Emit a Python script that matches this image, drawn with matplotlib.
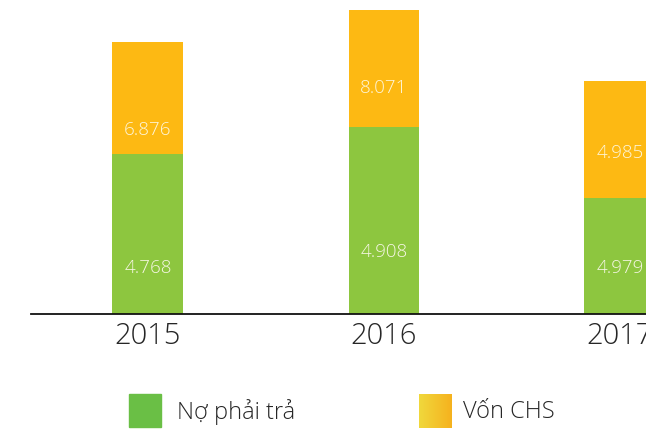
import matplotlib as mpl
mpl.use('Agg')
from matplotlib import pyplot as plt
from matplotlib.patches import Rectangle
import numpy as np

# Data
years = ['2015', '2016', '2017']
no_phai_tra = ['4.768', '4.908', '4.979']   # printed labels, green
von_chs = ['6.876', '8.071', '4.985']       # printed labels, orange
# bar segment heights as drawn (pixels), they are not to scale with labels
no_heights = [160, 187, 116.5]
von_heights = [112, 117, 116.5]
# label heights inside each segment (pixels above baseline)
no_label_y = [46, 62, 46]
von_label_y = [184, 226, 161]

GREEN = '#8dc63f'
GREEN_LEG = '#6abf45'
ORANGE = '#fdb913'
FONT = 'Open Sans'

plt.rcParams['font.family'] = [FONT, 'DejaVu Sans']

W, H = 646, 429
fig = plt.figure(figsize=(W / 100, H / 100), dpi=100)
ax = fig.add_axes([0, 0, 1, 1])

x = np.arange(len(years))
px = 236.0  # pixels per category
x0 = 148.0  # centre of first bar in pixels
ax.set_xlim(-x0 / px, (W - x0) / px)
ax.set_ylim(-115, 314)
ax.axis('off')

bw = 71 / px
ax.bar(x, no_heights, width=bw, color=GREEN, zorder=2)
ax.bar(x, von_heights, width=bw, bottom=no_heights, color=ORANGE, zorder=2)

# baseline
ax.plot([(31 - x0) / px, (W - x0) / px], [0, 0], color='#111111', lw=1.3, zorder=3)

for i, yr in enumerate(years):
    ax.text(x[i], -22, yr, ha='center', va='center', fontsize=21,
            color='#262626', fontweight='light')
    ax.text(x[i], no_label_y[i], no_phai_tra[i], ha='center', va='center',
            fontsize=13.5, color='#f6f6e4', fontweight='light', zorder=4)
    ax.text(x[i], von_label_y[i], von_chs[i], ha='center', va='center',
            fontsize=13.5, color='#fef6dc', fontweight='light', zorder=4)

# legend
fig.patches.append(Rectangle((129 / W, 2 / H), 32 / W, 33 / H,
                             transform=fig.transFigure, color=GREEN_LEG))
fig.text(177 / W, 17 / H, 'Nợ phải trả', ha='left', va='center',
         fontsize=17, color='#262626', fontweight='light')

gax = fig.add_axes([419 / W, 1 / H, 33 / W, 34 / H])
grad = np.linspace(0, 1, 64).reshape(1, -1)
cmap = mpl.colors.LinearSegmentedColormap.from_list('g', ['#f0d83c', '#f6b21e'])
gax.imshow(grad, aspect='auto', cmap=cmap)
gax.axis('off')
fig.text(463 / W, 17 / H, 'Vốn CHS', ha='left', va='center',
         fontsize=17, color='#262626', fontweight='light')

fig.savefig('out.png', dpi=100)
